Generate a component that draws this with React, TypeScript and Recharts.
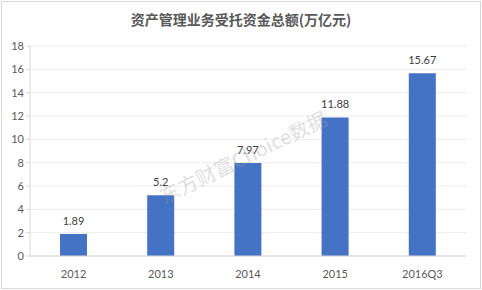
import { Bar, BarChart, CartesianGrid, LabelList, XAxis, YAxis } from "recharts"

const years = ["2012", "2013", "2014", "2015", "2016Q3"]
const amounts = [1.89, 5.2, 7.97, 11.88, 15.67]
const yTicks = [0, 2, 4, 6, 8, 10, 12, 14, 16, 18]

const data = years.map((y, i) => ({ year: y, value: amounts[i] }))

const tickStyle = { fontSize: 11, fill: "#595959", fontFamily: "Lato, 'Noto Sans', sans-serif" }

export default function App() {
    return (
        <div
            style={{
                position: "fixed",
                left: 0,
                top: 0,
                width: 482,
                height: 290,
                background: "#fff",
                overflow: "hidden",
            }}
        >
            <div
                style={{
                    position: "absolute",
                    left: 1,
                    top: 1,
                    width: 478,
                    height: 286,
                    border: "1px solid #d9d9d9",
                }}
            />
            <div
                style={{
                    position: "absolute",
                    left: 0,
                    top: 9,
                    width: 482,
                    textAlign: "center",
                    fontFamily: "'Noto Sans CJK SC', sans-serif",
                    fontSize: 14,
                    fontWeight: "bold",
                    color: "#595959",
                }}
            >
                资产管理业务受托资金总额(万亿元)
            </div>
            <BarChart
                width={482}
                height={290}
                data={data}
                margin={{ top: 46, right: 16, left: 0, bottom: 10 }}
                style={{ position: "absolute", left: 0, top: 0 }}
            >
                <CartesianGrid vertical={false} stroke="#ececec" />
                <XAxis
                    dataKey="year"
                    tick={tickStyle}
                    tickLine={false}
                    axisLine={{ stroke: "#d9d9d9" }}
                    height={24}
                    tickMargin={8}
                />
                <YAxis
                    domain={[0, 18]}
                    ticks={yTicks}
                    tick={tickStyle}
                    tickLine={{ stroke: "#d9d9d9" }}
                    tickSize={4}
                    axisLine={{ stroke: "#d9d9d9" }}
                    width={30}
                    interval={0}
                />
                <Bar dataKey="value" fill="#4472c4" barSize={27} isAnimationActive={false}>
                    <LabelList
                        dataKey="value"
                        position="top"
                        offset={9}
                        style={{ fontSize: 11, fill: "#404040", fontFamily: "Lato, 'Noto Sans', sans-serif" }}
                    />
                </Bar>
            </BarChart>
            {/* watermark */}
            <div
                style={{
                    position: "absolute",
                    left: 143,
                    top: 142,
                    width: 200,
                    textAlign: "center",
                    transform: "rotate(-26deg)",
                    fontFamily: "'Noto Sans CJK SC', sans-serif",
                    fontSize: 20,
                    color: "rgba(160,160,160,0.35)",
                    pointerEvents: "none",
                    whiteSpace: "nowrap",
                }}
            >
                东方财富Choice数据
            </div>
        </div>
    )
}
